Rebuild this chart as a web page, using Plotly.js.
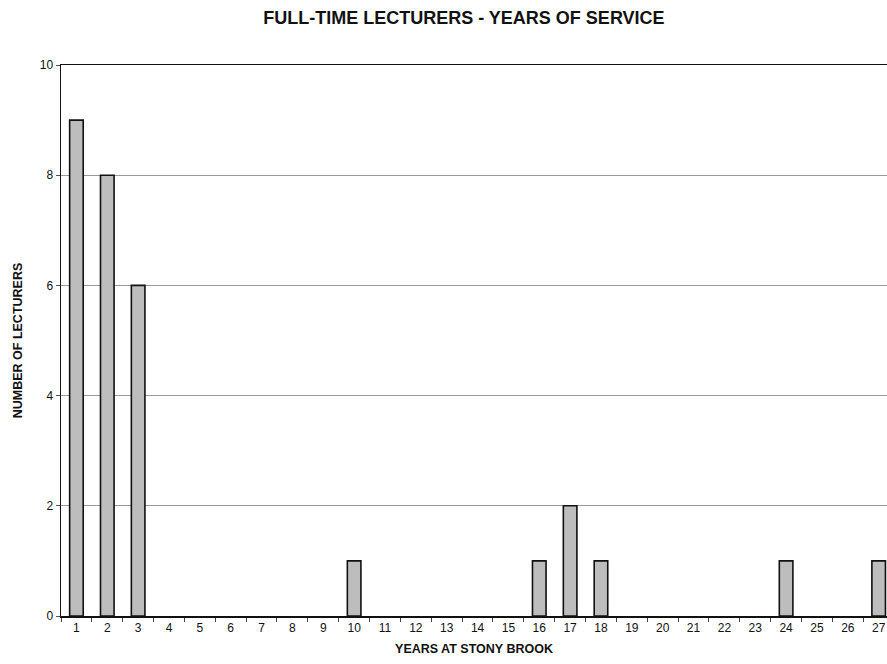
<!DOCTYPE html>
<html>
<head>
<meta charset="utf-8">
<script src="https://cdn.plot.ly/plotly-3.0.1.min.js"></script>
<style>html,body{margin:0;padding:0;background:#fff;}#chart{width:887px;height:664px;}</style>
</head>
<body>
<div id="chart"></div>
<script>
var years = [1,2,3,4,5,6,7,8,9,10,11,12,13,14,15,16,17,18,19,20,21,22,23,24,25,26,27];
var lecturers = [9,8,6,0,0,0,0,0,0,1,0,0,0,0,0,1,2,1,0,0,0,0,0,1,0,0,1];
var tickLabels = years.map(String);
var yTicks = [0,2,4,6,8,10];

var trace = {
  type: 'bar',
  x: years,
  y: lecturers,
  width: 0.44,
  marker: {color: '#bdbdbd', line: {color: '#111', width: lecturers.map(function(v){ return v > 0 ? 1.6 : 0; })}},
  hoverinfo: 'x+y'
};

var font = 'Liberation Sans, Arial, sans-serif';
var layout = {
  width: 887, height: 664,
  margin: {l: 61, r: 0, t: 65, b: 48},
  paper_bgcolor: '#fff', plot_bgcolor: '#fff',
  showlegend: false,
  font: {family: font, color: '#111', size: 12},
  title: {text: '<b>FULL-TIME LECTURERS - YEARS OF SERVICE</b>', font: {family: font, size: 18, color: '#111'},
          x: 0.523, xref: 'container', xanchor: 'center', y: 0.974, yref: 'container', yanchor: 'middle'},
  xaxis: {
    range: [0.5, 27.27],
    tickmode: 'array', tickvals: years, ticktext: tickLabels,
    ticks: '', showgrid: false, zeroline: false,
    showline: true, linecolor: '#111', linewidth: 1.5, mirror: true,
    tickfont: {family: font, size: 12, color: '#111'},
    minor: {ticks: 'outside', tick0: 0.5, dtick: 1, ticklen: 4, tickcolor: '#444', showgrid: false},
    title: {text: '<b>YEARS AT STONY BROOK</b>', font: {family: font, size: 12.5, color: '#111'}, standoff: 10}
  },
  yaxis: {
    range: [0, 10],
    tickmode: 'array', tickvals: yTicks,
    ticks: 'outside', ticklen: 4, tickcolor: '#555',
    showgrid: true, gridcolor: '#808080', gridwidth: 0.8,
    zeroline: false,
    showline: true, linecolor: '#111', linewidth: 1.5,
    tickfont: {family: font, size: 12, color: '#111'},
    title: {text: '<b>NUMBER OF LECTURERS</b>', font: {family: font, size: 12.5, color: '#111'}, standoff: 14}
  }
};

Plotly.newPlot('chart', [trace], layout, {staticPlot: true, displayModeBar: false});
</script>
</body>
</html>
